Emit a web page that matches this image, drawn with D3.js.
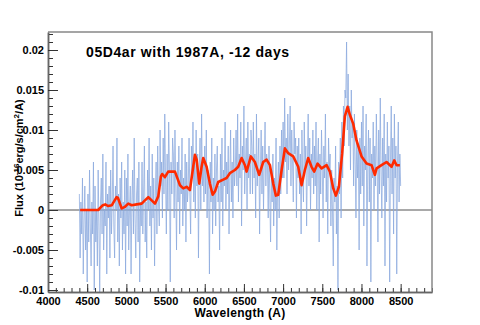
<!DOCTYPE html>
<html>
<head>
<meta charset="utf-8">
<script src="https://cdn.jsdelivr.net/npm/d3@7"></script>
<style>
  body { margin: 0; background: #fff; }
  text { font-family: "Liberation Sans", Arial, sans-serif; font-weight: bold; }
</style>
</head>
<body>
<script>
// observed spectrum, flux in units of 1e-3, sampled every 10 A from 4400 A
var specStart = 4400, specStep = 10;
var specFlux = [
  2, -6, 1, -3, 4, -8, -1, 3, -5, 0, -9, 2, -4, 5, -2, -7, 1, -3, 6, -10,
  3, -4, 0, -7, 5, -2, -10.5, 1, 4, -3, 7, -5, 0, -2, 6, -8, 2, -1, 3, -6,
  5, -3, 1, 8, -2, -6, 3, 0, 9, -4, 2, -7, 4, -1, 6, -5, 1, -3, 5, -8,
  4, -2, 7, -5, 0, 3, -8, 1, 5, -3, 9, -1, -6, 2, 4, -4, 6, -9, 1, -2,
  6, -3, 2, 8, -4, 1, -6, 5, 0, 9, -2, 3, -5, 7, -1, 4, -7, 2, 6, -3,
  8, 1, -2, 10, 3, 6, -1, 9, 2, 12, 4, -3, 7, 0, 11, 5, -9, 6, 2, 9,
  7, -1, 10, 3, -5, 6, 1, 8, -3, 5, 2, 9, -2, 4, 0, 7, -4, 6, 1, 3,
  9, 2, -3, 8, 4, 11, 1, 6, -1, 10, 3, 7, -6, 5, 9, 0, 12, 3, 6, 1,
  8, 2, 10, -1, 5, 3, -8, 6, 1, 9, -3, 4, 0, 7, -2, 5, 8, 1, 3, -5,
  7, 1, 9, -2, 5, 3, 11, 0, 6, 2, 8, -3, 4, 10, 1, 6, -1, 9, 3, 5,
  10, 3, 12, 1, 7, 4, 11, -2, 8, 5, 13, 2, 6, 9, 0, 11, 4, 7, 2, 10,
  8, 2, 11, 4, 7, -1, 12, 3, 6, 9, -3, 5, 10, 2, 8, 0, 6, 11, 3, 7,
  6, -1, 8, 2, -4, 5, 1, 7, -2, 4, 0, 9, -5, 3, 6, -1, 8, 2, 10, 4,
  11, 4, 14, 6, 9, 2, 12, 5, 8, 13, 3, 10, 6, 1, 11, 7, 9, -1, 8, 4,
  9, 2, 7, -3, 10, 4, 1, 11, 5, 8, -2, 6, 12, 3, 9, 0, 7, 4, 10, 2,
  8, 3, 11, 0, 6, 9, -4, 7, 2, 10, 5, -1, 8, 4, 12, 1, 6, -3, 9, 5,
  7, -2, 5, 0, -7, 4, 1, 8, -3, 3, -10, 6, 2, 9, -1, 11, 4, 13, 8, 15,
  14, 21, 10, 17, 8, 13, 5, 15, 9, 11, 3, 12, 6, -1, 10, 4, 8, -5, 9, 2,
  11, 3, 13, -2, 8, 5, 12, -7, 6, 10, 1, 9, -9, 7, 4, 11, 0, 8, 3, 12,
  6, -4, 10, 2, 14, 5, -1, 9, 3, 12, -7, 7, 1, 11, 4, 8, -9, 6, 13, 2,
  9, -3, 12, 4, 8, -8, 6, 11, 1, 7, 3
];

// SN 1987A template (red)
var tmplWave = [4410, 4600, 4640, 4700, 4730, 4765, 4815, 4875, 4893, 4940,
  4982, 5024, 5068, 5131, 5195, 5237, 5280, 5323, 5365, 5407,
  5441, 5458, 5492, 5534, 5598, 5620, 5684, 5726, 5769, 5811,
  5853, 5875, 5897, 5930, 5960, 5981, 6024, 6066, 6101, 6130,
  6172, 6236, 6279, 6321, 6385, 6427, 6471, 6513, 6534, 6589,
  6640, 6695, 6746, 6789, 6832, 6874, 6908, 6938, 6981, 7023,
  7065, 7129, 7193, 7236, 7278, 7320, 7363, 7397, 7440, 7491,
  7555, 7597, 7640, 7673, 7712, 7754, 7788, 7823, 7852, 7894,
  7937, 8001, 8065, 8129, 8171, 8193, 8256, 8320, 8384, 8418,
  8448, 8490];
var tmplFlux = [0, 0, 0, 0.6, 0.7, 0.5, 0.6, 1.6, 1.5, 0.2,
  0.4, 0.8, 0.6, 0.7, 0.8, 1.2, 1.6, 1.2, 0.8, 1.7,
  4.2, 4.5, 4.1, 4.8, 4.8, 4.8, 3.1, 2.7, 2.9, 2.5,
  5.4, 6.9, 6.3, 3.3, 5.4, 6.5, 5.4, 3.3, 1.9, 2.3,
  3.5, 3.8, 4.0, 4.6, 5.0, 5.4, 6.5, 5.6, 4.8, 6.7,
  6.0, 4.4, 6.0, 6.3, 5.6, 3.3, 1.8, 1.9, 5.0, 7.7,
  7.1, 6.7, 5.4, 3.1, 5.0, 6.5, 5.4, 4.8, 5.8, 5.2,
  5.6, 4.8, 2.7, 1.8, 2.9, 7.1, 11.7, 12.9, 11.9, 10.8,
  8.7, 6.7, 5.8, 5.6, 4.4, 5.2, 5.6, 6.0, 5.4, 6.2,
  5.6, 5.6];

var xMajor = [4000, 4500, 5000, 5500, 6000, 6500, 7000, 7500, 8000, 8500];
var yMajor = [-0.01, -0.005, 0, 0.005, 0.01, 0.015, 0.02];

var W = 480, H = 325;
var margin = {top: 32, right: 48, bottom: 33, left: 48},
    width = W - margin.left - margin.right,
    height = H - margin.top - margin.bottom;

var svg = d3.select("body").append("svg")
    .attr("width", W)
    .attr("height", H);

var g = svg.append("g")
    .attr("transform", "translate(" + margin.left + "," + margin.top + ")");

var xScale = d3.scaleLinear().domain([4000, 8900]).range([0, width]);
var yScale = d3.scaleLinear().domain([-0.01025, 0.02225]).range([height, 0]);

g.append("clipPath").attr("id", "clip")
  .append("rect").attr("width", width).attr("height", height);

// zero line
g.append("line")
    .attr("x1", 0).attr("x2", width)
    .attr("y1", yScale(0)).attr("y2", yScale(0))
    .attr("stroke", "#555").attr("stroke-width", 1.2);

var spec = specFlux.map(function(v, i) {
    return [specStart + i * specStep, v / 1000];
});
var line = d3.line()
    .x(function(d) { return xScale(d[0]); })
    .y(function(d) { return yScale(d[1]); });

g.append("path")
    .datum(spec)
    .attr("clip-path", "url(#clip)")
    .attr("d", line)
    .attr("fill", "none")
    .attr("stroke", "#8aa8de")
    .attr("stroke-opacity", 0.75)
    .attr("stroke-width", 1);

var tmpl = tmplWave.map(function(w, i) { return [w, tmplFlux[i] / 1000]; });
g.append("path")
    .datum(tmpl)
    .attr("clip-path", "url(#clip)")
    .attr("d", line)
    .attr("fill", "none")
    .attr("stroke", "#ff2a00")
    .attr("stroke-width", 2.6)
    .attr("stroke-linejoin", "round");

// axes, ROOT style ticks pointing inward
var xMinor = d3.range(4000, 8901, 100);
var yMinor = d3.range(-10, 23, 1).map(function(d) { return d / 1000; });

g.append("g")
    .attr("transform", "translate(0," + height + ")")
    .call(d3.axisBottom(xScale).tickValues(xMinor).tickSize(-4).tickSizeOuter(0).tickFormat(""));
var gx = g.append("g")
    .attr("transform", "translate(0," + height + ")")
    .call(d3.axisBottom(xScale).tickValues(xMajor).tickSize(-8).tickSizeOuter(0)
      .tickFormat(d3.format("d")));
gx.selectAll("text").attr("dy", "0.71em").attr("y", 5).attr("font-size", "11px").attr("fill", "#000");

g.append("g")
    .call(d3.axisLeft(yScale).tickValues(yMinor).tickSize(-5).tickSizeOuter(0).tickFormat(""));
var gy = g.append("g")
    .call(d3.axisLeft(yScale).tickValues(yMajor).tickSize(-10).tickSizeOuter(0)
      .tickFormat(function(d) { return d === 0 ? "0" : String(+d.toFixed(3)); }));
gy.selectAll("text").attr("x", -4).attr("font-size", "11px").attr("fill", "#000");

g.selectAll(".domain").attr("stroke", "#666").attr("stroke-width", 1.5);
g.selectAll(".tick line").attr("stroke", "#333");

// frame top and right
g.append("path")
    .attr("d", "M0,0H" + width + "V" + height)
    .attr("fill", "none")
    .attr("stroke", "#888")
    .attr("stroke-width", 1.5);

// title
svg.append("text")
    .attr("x", 86).attr("y", 57)
    .attr("font-size", "14px")
    .attr("letter-spacing", "0.6px")
    .text("05D4ar with 1987A, -12 days");

// axis titles
svg.append("text")
    .attr("x", 240).attr("y", 317)
    .attr("text-anchor", "middle")
    .attr("font-size", "12px")
    .attr("letter-spacing", "0.3px")
    .text("Wavelength (A)");

var yl = svg.append("text")
    .attr("transform", "translate(23,158) rotate(-90)")
    .attr("text-anchor", "middle")
    .attr("font-size", "11px");
yl.append("tspan").text("Flux (10");
yl.append("tspan").attr("dy", -4).attr("font-size", "8px").text("-16");
yl.append("tspan").attr("dy", 4).text("erg/s/cm");
yl.append("tspan").attr("dy", -4).attr("font-size", "8px").text("2");
yl.append("tspan").attr("dy", 4).text("/A)");
</script>
</body>
</html>
